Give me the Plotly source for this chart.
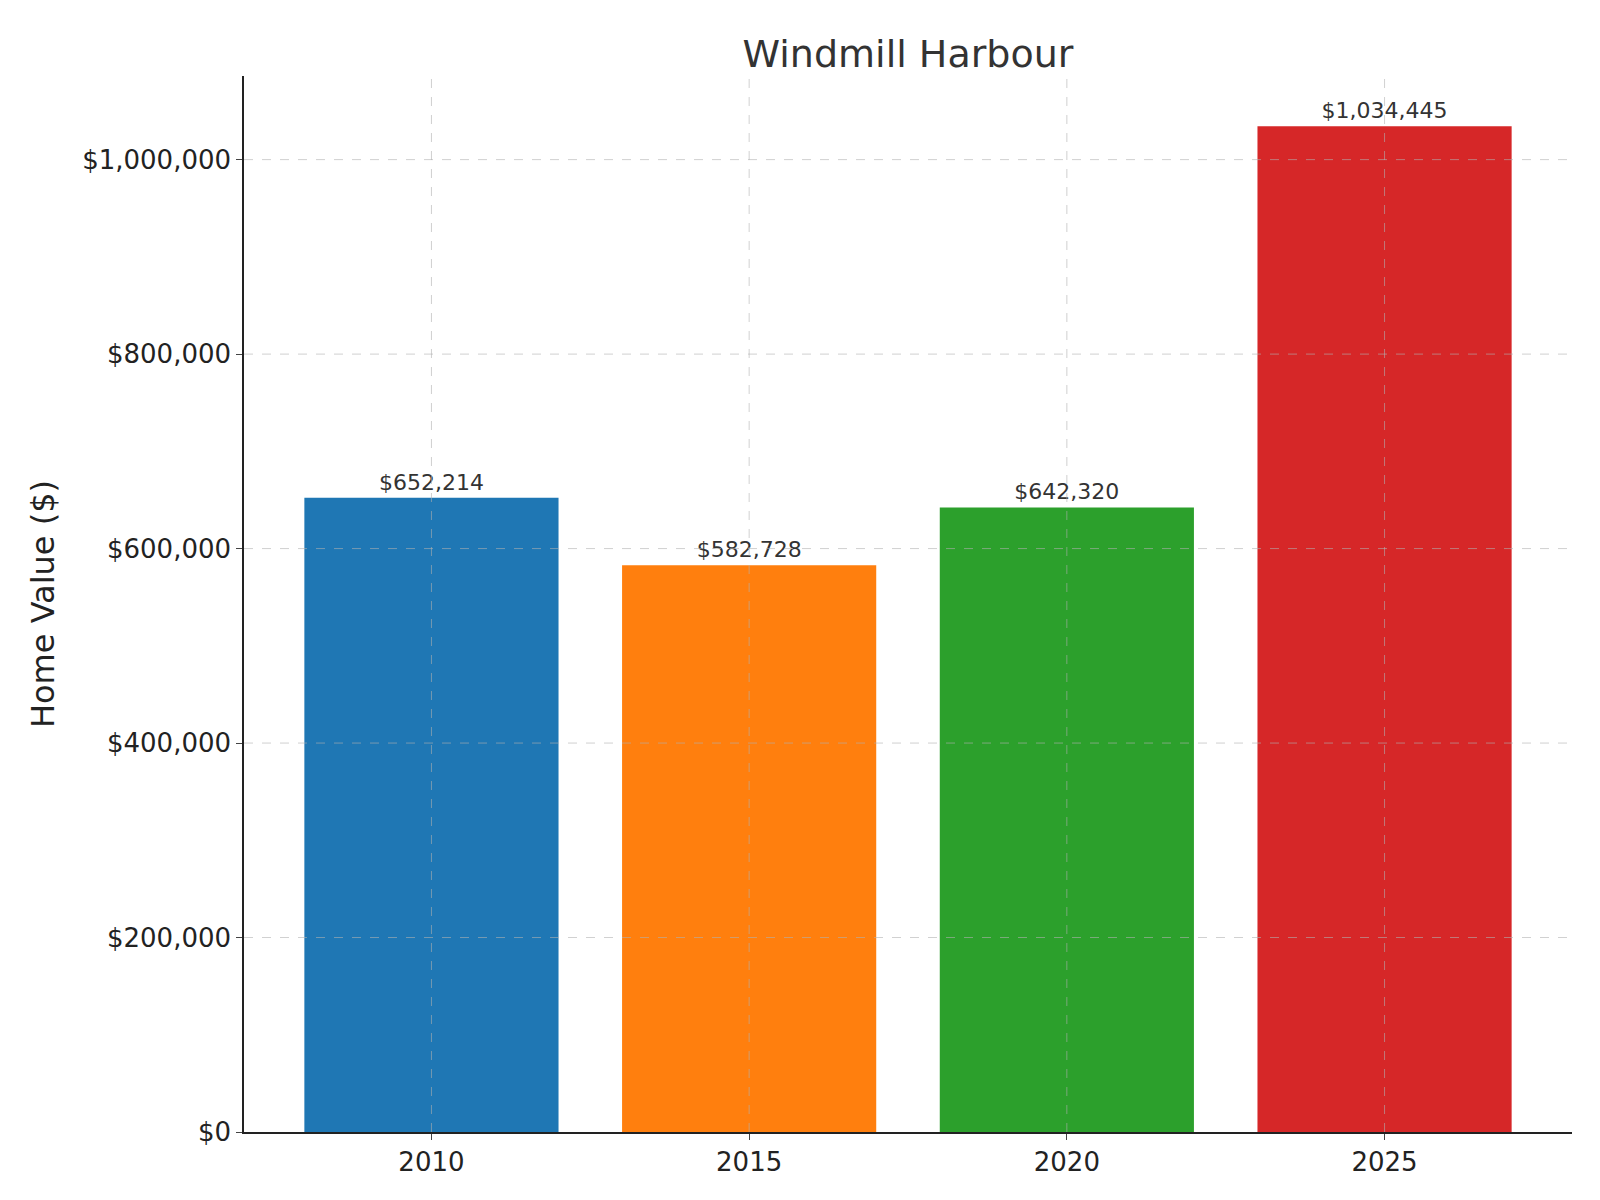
import plotly.graph_objects as go

# data
years = ["2010", "2015", "2020", "2025"]
values = [652214, 582728, 642320, 1034445]
colors = ["#1f77b4", "#ff7f0e", "#2ca02c", "#d62728"]
y_ticks = [0, 200000, 400000, 600000, 800000, 1000000]

fig = go.Figure(go.Bar(
    x=years, y=values, width=0.8,
    marker=dict(color=colors, line=dict(width=0)),
    text=[f"${v:,}" for v in values], textposition="outside",
    textfont=dict(size=22, color="#333333"), cliponaxis=False,
))

# dashed grid drawn on top of the bars, like the original
grid = dict(color="rgba(176,176,176,0.6)", width=1, dash="dash")
for t in y_ticks[1:]:
    fig.add_shape(type="line", xref="paper", x0=0, x1=1, yref="y", y0=t, y1=t,
                  line=grid, layer="above")
for i in range(len(years)):
    fig.add_shape(type="line", xref="x", x0=i, x1=i, yref="paper", y0=0, y1=1,
                  line=grid, layer="above")

fig.update_layout(
    width=1600, height=1200,
    plot_bgcolor="white", paper_bgcolor="white",
    font=dict(family="DejaVu Sans", color="#222222"),
    margin=dict(l=236, r=36, t=68, b=76),
    title=dict(text="Windmill Harbour", x=0.5, xref="paper", xanchor="center",
               y=0.962, yanchor="middle",
               font=dict(size=38, color="#333333")),
    showlegend=False,
)
fig.update_xaxes(range=[-0.59, 3.59], showgrid=False, showline=True,
                 linecolor="#222222", linewidth=1.5, ticks="outside",
                 ticklen=6, tickfont=dict(size=26))
fig.update_yaxes(range=[0, 1086000], tickvals=y_ticks,
                 ticktext=[f"${v:,}" for v in y_ticks], showgrid=False,
                 showline=True, linecolor="#222222", linewidth=1.5,
                 ticks="outside", ticklen=6, tickfont=dict(size=26),
                 zeroline=False,
                 title=dict(text="Home Value ($)", font=dict(size=32), standoff=18))

fig.write_html("out.html")
